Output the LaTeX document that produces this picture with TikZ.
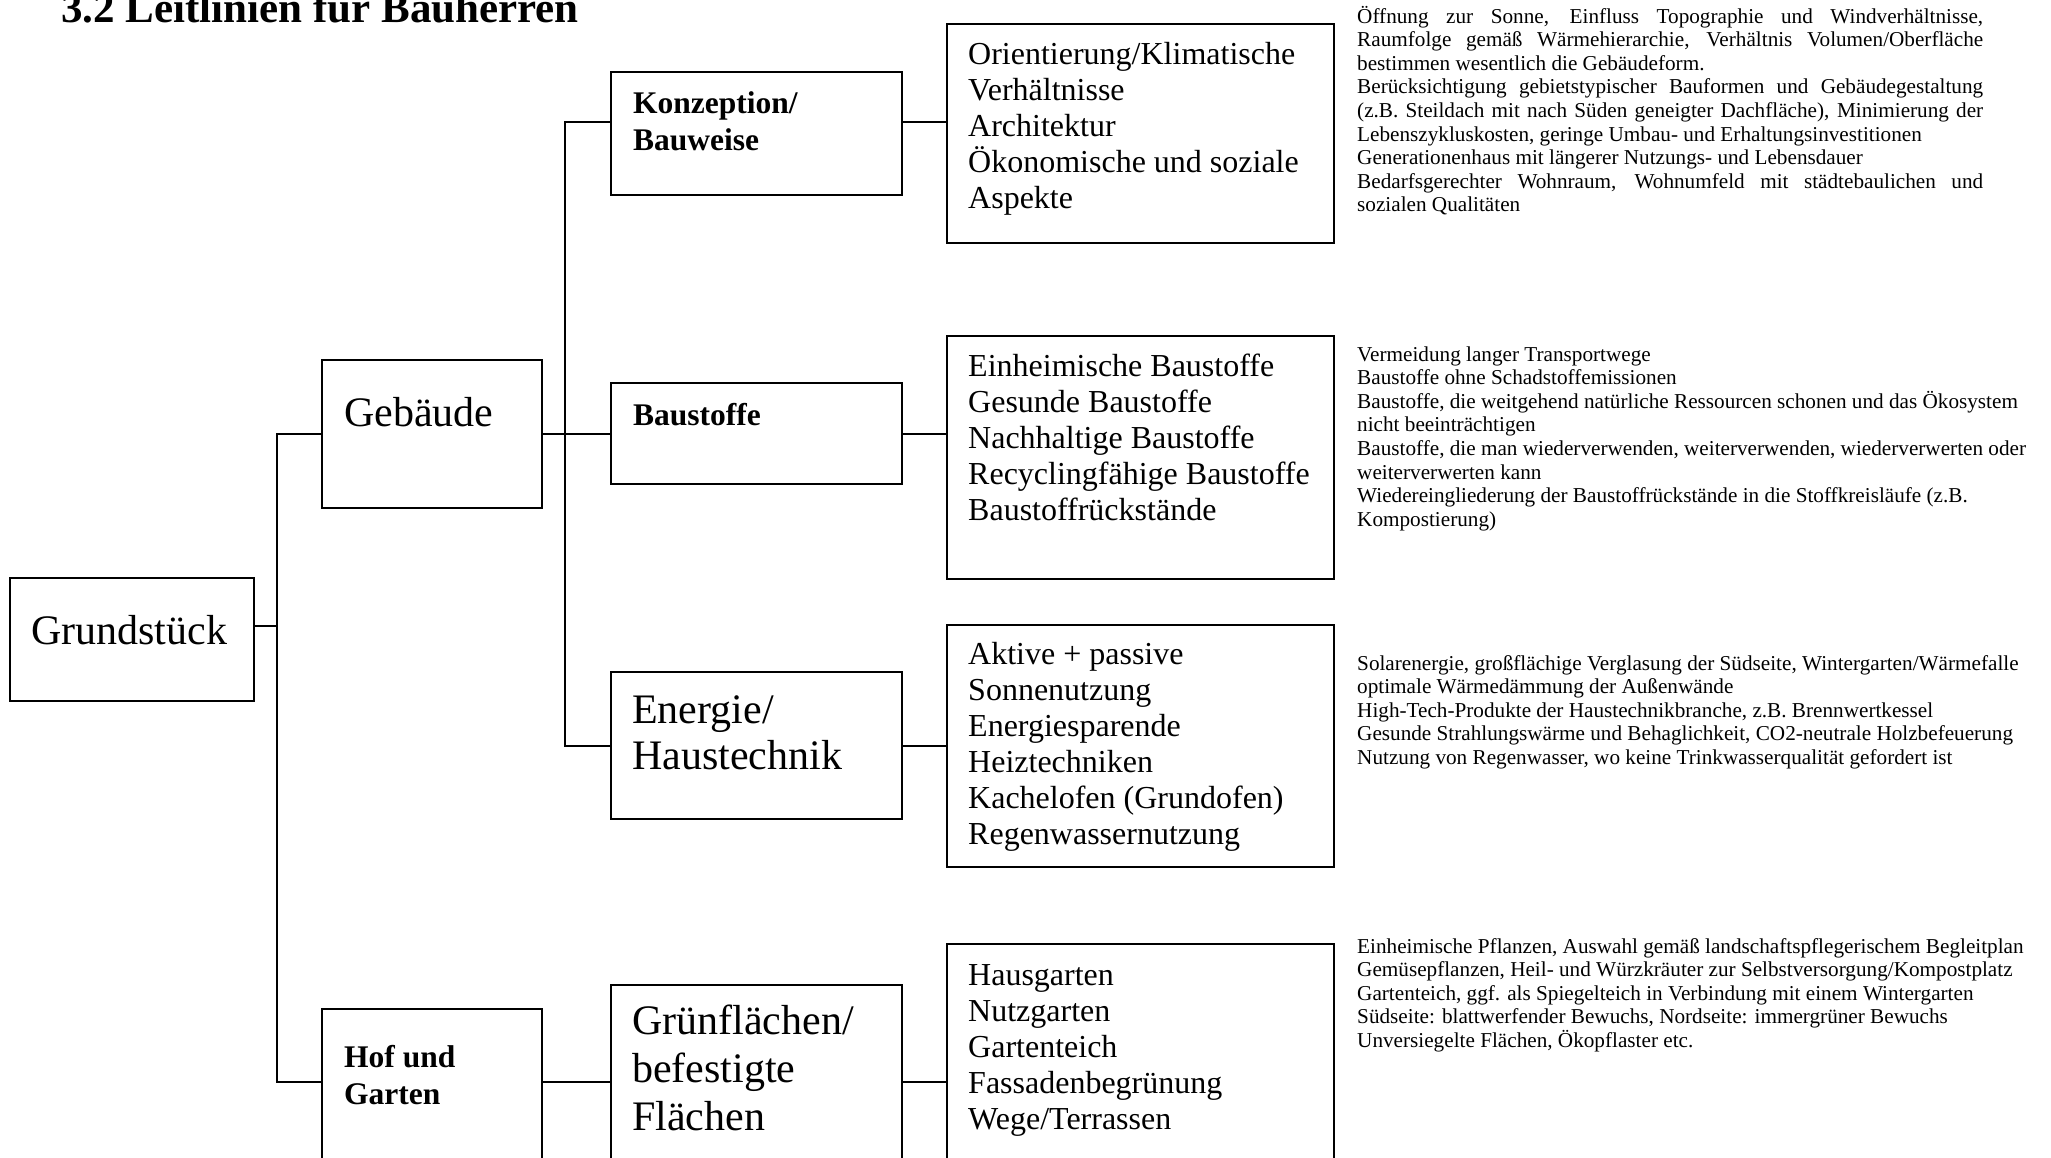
\documentclass[tikz,border=0pt]{standalone}
\usepackage{fontspec}
\setmainfont{Liberation Serif}
\usetikzlibrary{calc}
\newcommand{\bx}[5]{\node[box,minimum width={#4-#2},minimum height={#5-#3}] (#1) at (#2,#3) {};}
\begin{document}
\begin{tikzpicture}[x=1pt,y=-1pt,
  box/.style={draw,line width=1.2pt,inner sep=0pt,outer sep=0pt,anchor=north west},
  conn/.style={line width=2.2pt},
  big/.style={font=\fontsize{42}{46.5}\selectfont,anchor=base west,inner sep=0pt},
  bigbold/.style={font=\bfseries\fontsize{31.5}{37}\selectfont,anchor=base west,inner sep=0pt},
  mid/.style={font=\fontsize{32}{36}\selectfont,anchor=base west,inner sep=0pt},
  small/.style={font=\fontsize{21.2}{23.6}\selectfont,anchor=base west,inner sep=0pt},
  titlestyle/.style={font=\bfseries\fontsize{43}{48}\selectfont,anchor=base west,inner sep=0pt}]
\useasboundingbox (0,0) rectangle (2051,1157);
\clip (0,0) rectangle (2051,1157);
\fill[white] (0,0) rectangle (2051,1157);
% title
\node[titlestyle] (title) at (61,22) {3.2 Leitlinien für Bauherren};
% boxes
\bx{G}{10}{578}{254}{701}
\bx{Geb}{322}{360}{542}{508}
\bx{Hof}{322}{1009}{542}{1190}
\bx{K}{611}{72}{902}{195}
\bx{B}{611}{383}{902}{484}
\bx{E}{611}{672}{902}{819}
\bx{Gr}{611}{985}{902}{1190}
\bx{D1}{947}{24}{1334}{243}
\bx{D2}{947}{336}{1334}{579}
\bx{D3}{947}{625}{1334}{867}
\bx{D4}{947}{944}{1334}{1190}
% box texts
\node[big] (tG) at (31,644) {Grundstück};
\node[big] (tGeb) at (344,426) {Gebäude};
\node[bigbold] (tHof) at (344,1067) {\vtop{\hbox{Hof und}\hbox{Garten}}};
\node[bigbold] (tK) at (633,113) {\vtop{\hbox{Konzeption/}\hbox{Bauweise}}};
\node[bigbold] (tB) at (633,425) {Baustoffe};
\node[big] (tE) at (632,723) {\vtop{\hbox{Energie/}\hbox{Haustechnik}}};
\node[big] (tGr) at (632,1034) {\vtop{\baselineskip=48pt\hbox{Grünflächen/}\hbox{befestigte}\hbox{Flächen}}};
\node[mid] (tD1) at (968,64.5) {\vtop{\hbox{Orientierung/Klimatische}\hbox{Verhältnisse}\hbox{Architektur}\hbox{Ökonomische und soziale}\hbox{Aspekte}}};
\node[mid] (tD2) at (968,376.5) {\vtop{\hbox{Einheimische Baustoffe}\hbox{Gesunde Baustoffe}\hbox{Nachhaltige Baustoffe}\hbox{Recyclingfähige Baustoffe}\hbox{Baustoffrückstände}}};
\node[mid] (tD3) at (968,664.5) {\vtop{\hbox{Aktive + passive}\hbox{Sonnenutzung}\hbox{Energiesparende}\hbox{Heiztechniken}\hbox{Kachelofen (Grundofen)}\hbox{Regenwassernutzung}}};
\node[mid] (tD4) at (968,985.5) {\vtop{\hbox{Hausgarten}\hbox{Nutzgarten}\hbox{Gartenteich}\hbox{Fassadenbegrünung}\hbox{Wege/Terrassen}}};
% right descriptions
\node[small] (r1) at (1357,23) {\vtop{%
\hbox to 626pt{Öffnung zur Sonne, Einfluss Topographie und Windverhältnisse,}
\hbox to 626pt{Raumfolge gemäß Wärmehierarchie, Verhältnis Volumen/Oberfläche}
\hbox{bestimmen wesentlich die Gebäudeform.}
\hbox to 626pt{Berücksichtigung gebietstypischer Bauformen und Gebäudegestaltung}
\hbox to 626pt{(z.B. Steildach mit nach Süden geneigter Dachfläche), Minimierung der}
\hbox{Lebenszykluskosten, geringe Umbau- und Erhaltungsinvestitionen}
\hbox{Generationenhaus mit längerer Nutzungs- und Lebensdauer}
\hbox to 626pt{Bedarfsgerechter Wohnraum, Wohnumfeld mit städtebaulichen und}
\hbox{sozialen Qualitäten}}};
\node[small] (r2) at (1357,361) {\vtop{%
\hbox{Vermeidung langer Transportwege}
\hbox{Baustoffe ohne Schadstoffemissionen}
\hbox{Baustoffe, die weitgehend natürliche Ressourcen schonen und das Ökosystem}
\hbox{nicht beeinträchtigen}
\hbox{Baustoffe, die man wiederverwenden, weiterverwenden, wiederverwerten oder}
\hbox{weiterverwerten kann}
\hbox{Wiedereingliederung der Baustoffrückstände in die Stoffkreisläufe (z.B.}
\hbox{Kompostierung)}}};
\node[small] (r3) at (1357,670) {\vtop{%
\hbox{Solarenergie, großflächige Verglasung der Südseite, Wintergarten/Wärmefalle}
\hbox{optimale Wärmedämmung der Außenwände}
\hbox{High-Tech-Produkte der Haustechnikbranche, z.B. Brennwertkessel}
\hbox{Gesunde Strahlungswärme und Behaglichkeit, CO2-neutrale Holzbefeuerung}
\hbox{Nutzung von Regenwasser, wo keine Trinkwasserqualität gefordert ist}}};
\node[small] (r4) at (1357,953) {\vtop{%
\hbox{Einheimische Pflanzen, Auswahl gemäß landschaftspflegerischem Begleitplan}
\hbox{Gemüsepflanzen, Heil- und Würzkräuter zur Selbstversorgung/Kompostplatz}
\hbox{Gartenteich, ggf. als Spiegelteich in Verbindung mit einem Wintergarten}
\hbox{Südseite: blattwerfender Bewuchs, Nordseite: immergrüner Bewuchs}
\hbox{Unversiegelte Flächen, Ökopflaster etc.}}};
% connectors
\coordinate (jG) at (277,626);
\coordinate (t1a) at (277,434);
\coordinate (t1b) at (277,1082);
\coordinate (t2a) at (565,122);
\coordinate (t2b) at (565,746);
\draw[conn] (G.east|-jG) -- (jG);
\draw[conn] (Geb.west|-t1a) -- (t1a) -- (t1b) -- (Hof.west|-t1b);
\draw[conn] (K.west|-t2a) -- (t2a) -- (t2b) -- (E.west|-t2b);
\draw[conn] (Geb.east|-t1a) -- (B.west|-t1a);
\draw[conn] (K.east|-t2a) -- (D1.west|-t2a);
\draw[conn] (B.east|-t1a) -- (D2.west|-t1a);
\draw[conn] (E.east|-t2b) -- (D3.west|-t2b);
\draw[conn] (Hof.east|-t1b) -- (Gr.west|-t1b);
\draw[conn] (Gr.east|-t1b) -- (D4.west|-t1b);
\end{tikzpicture}
\end{document}
